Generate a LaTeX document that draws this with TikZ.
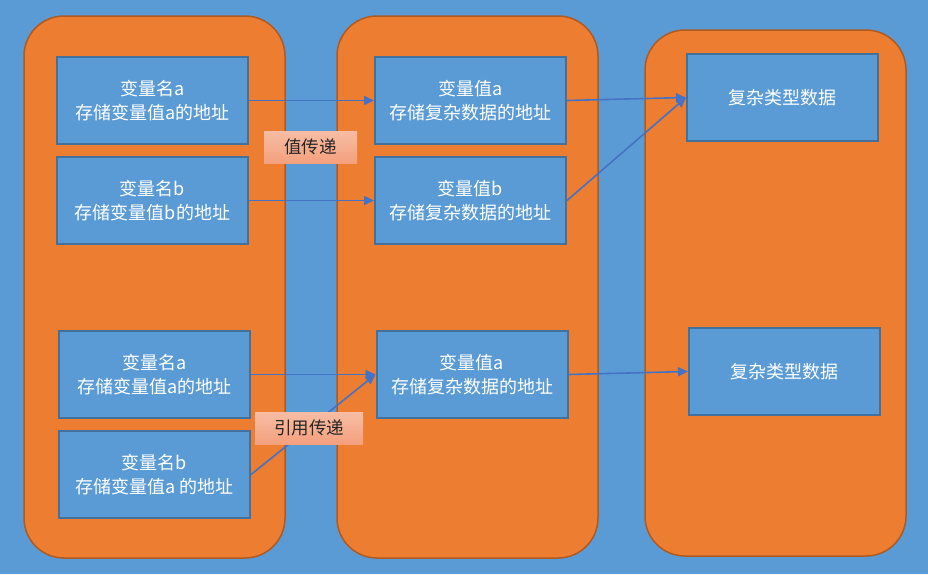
\documentclass[tikz,border=0pt]{standalone}
\usepackage{fontspec}
\setmainfont{Noto Sans CJK SC}
\usetikzlibrary{arrows.meta}
\definecolor{bg}{HTML}{5B9BD5}
\definecolor{org}{HTML}{ED7D31}
\definecolor{orgb}{HTML}{AE5A21}
\definecolor{boxb}{HTML}{41719C}
\definecolor{arr}{HTML}{4472C4}
\definecolor{lbltop}{HTML}{F7BDA4}
\definecolor{lblbot}{HTML}{F4A07D}
\tikzset{
  col/.style={draw=orgb, line width=1.5pt, fill=org, rounded corners=40pt, minimum width=261pt, inner sep=0pt},
  blk/.style={draw=boxb, line width=2pt, fill=bg, minimum width=191pt, minimum height=87pt, inner sep=0pt, align=center, text=white, font=\fontsize{18}{24}\selectfont},
  lbl/.style={top color=lbltop, bottom color=lblbot, draw=none, minimum height=32pt, inner sep=0pt, text=black!85, font=\fontsize{17.5}{22}\selectfont},
  arrow/.style={draw=arr, line width=1.6pt, -{Triangle[length=10pt,width=9pt]}}
}
\begin{document}
\begin{tikzpicture}[x=1pt,y=-1pt]
\fill[bg] (0,0) rectangle (928,574);
\useasboundingbox (0,0) rectangle (928,574);
% columns
\node[col, minimum height=542pt] (col1) at (154.5,287) {};
\node[col, minimum height=542pt] (col2) at (467.5,287) {};
\node[col, minimum height=526pt] (col3) at (775.5,293) {};
% column 1 boxes
\node[blk] (a1) at (152.5,100.5) {变量名a\\存储变量值a的地址};
\node[blk] (b1) at (152.5,200.5) {变量名b\\存储变量值b的地址};
\node[blk] (a2) at (154.5,374.5) {变量名a\\存储变量值a的地址};
\node[blk] (b2) at (154.5,474.5) {变量名b\\存储变量值a 的地址};
% column 2 boxes
\node[blk] (va) at (470.5,100.5) {变量值a\\存储复杂数据的地址};
\node[blk] (vb) at (470.5,200.5) {变量值b\\存储复杂数据的地址};
\node[blk] (vc) at (472,374.5) {变量值a\\存储复杂数据的地址};
% column 3 boxes
\node[blk] (c1) at (782.5,97.5) {复杂类型数据};
\node[blk] (c2) at (784.5,371.5) {复杂类型数据};
% arrows
\draw[arrow] (a1.east) -- (va.west);
\draw[arrow] (b1.east) -- (vb.west);
\draw[arrow] (va.east) -- (c1.west);
\draw[arrow] (vb.east) -- (c1.west);
\draw[arrow] (a2.east) -- (vc.west);
\draw[arrow] (b2.east) -- (vc.west);
\draw[arrow] (vc.east) -- (c2.west);
% labels
\node[lbl, minimum width=93pt] (l1) at (310.5,147) {值传递};
\node[lbl, minimum width=108pt] (l2) at (309,428) {引用传递};
\end{tikzpicture}
\end{document}
